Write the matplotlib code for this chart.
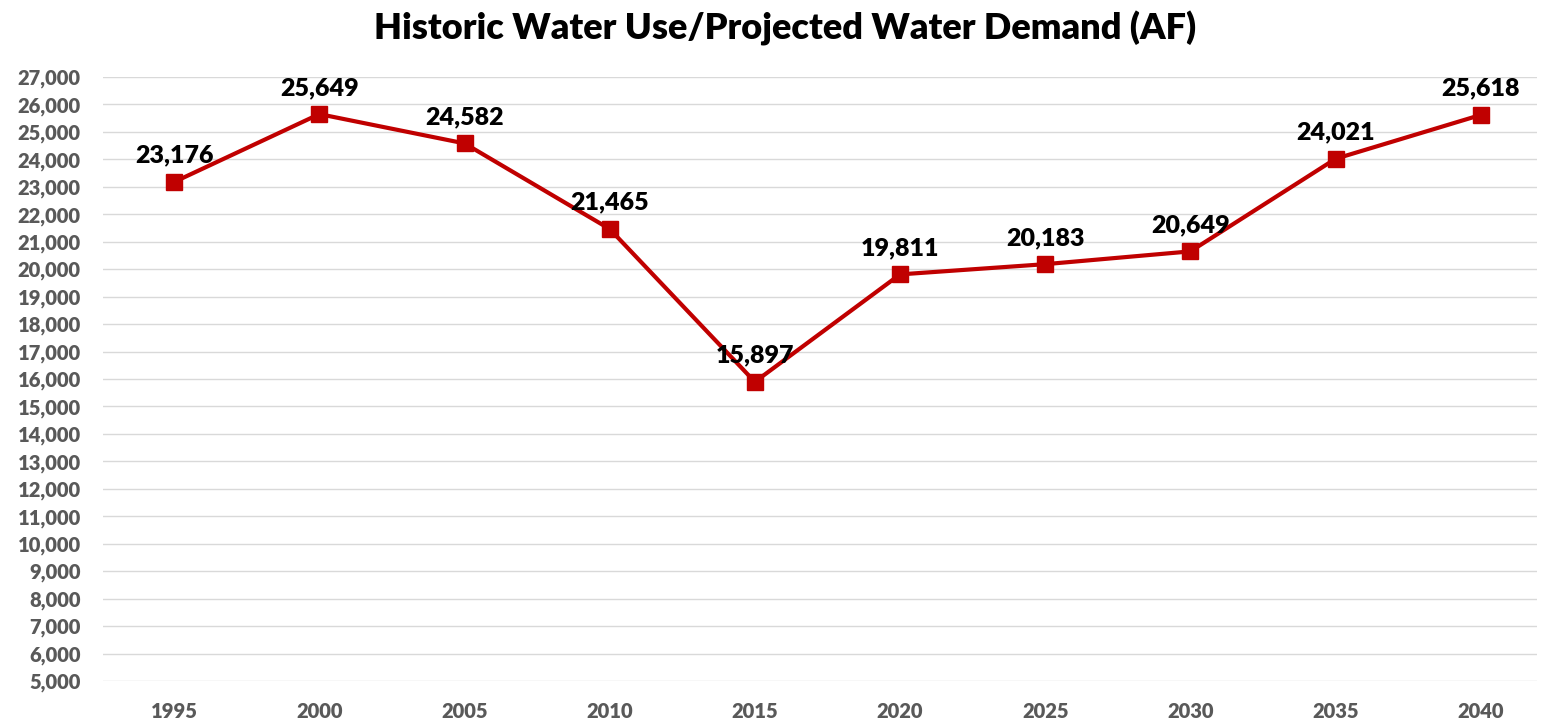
import matplotlib
matplotlib.use("Agg")
import matplotlib.pyplot as plt
from matplotlib.ticker import FuncFormatter, MultipleLocator

years = ["1995", "2000", "2005", "2010", "2015", "2020", "2025", "2030", "2035", "2040"]
values = [23176, 25649, 24582, 21465, 15897, 19811, 20183, 20649, 24021, 25618]

plt.rcParams['font.family'] = ['Lato', 'DejaVu Sans']

fig = plt.figure(figsize=(15.42, 7.23), dpi=100)
ax = fig.add_axes([0.0668, 0.058, 0.997 - 0.0668, 0.8935 - 0.058])

x = list(range(len(years)))
ax.plot(x, values, color="#C00000", linewidth=3, marker="s", markersize=11,
        zorder=3)
for xi, v in zip(x, values):
    ax.annotate(f"{v:,}", (xi, v), xytext=(0, 11), textcoords="offset points",
                ha="center", va="bottom", fontsize=18, fontweight="heavy",
                color="black", zorder=4)

ax.set_ylim(5000, 27000)
ax.set_xlim(-0.49, 9.39)
ax.yaxis.set_major_locator(MultipleLocator(1000))
ax.yaxis.set_major_formatter(FuncFormatter(lambda v, p: f"{int(v):,}"))
ax.set_xticks(x)
ax.set_xticklabels(years)
ax.grid(axis="y", color="#D9D9D9", linewidth=1)
ax.set_axisbelow(True)
for s in ax.spines.values():
    s.set_visible(False)
ax.tick_params(axis="both", length=0, labelsize=14.5, labelcolor="#595959")
for lbl in ax.get_xticklabels() + ax.get_yticklabels():
    lbl.set_fontweight("heavy")
ax.tick_params(axis="y", pad=16)
ax.tick_params(axis="x", pad=15)

fig.suptitle("Historic Water Use/Projected Water Demand (AF)", x=0.509, y=0.985,
             fontsize=26, fontweight="heavy", color="black", va="top")

fig.savefig("out.png", dpi=100)
